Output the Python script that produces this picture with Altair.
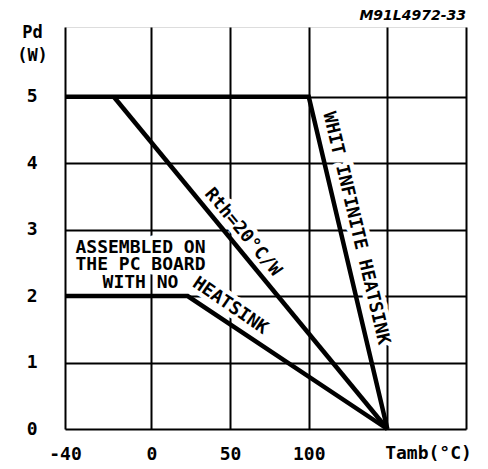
import altair as alt
import pandas as pd

FONT = "DejaVu Sans Mono"

# --- data ---
five_x = [-55, 100, 150]
five_y = [5, 5, 0]
rth_x = [-24, 150]
rth_y = [5, 0]
nohs_x = [-55, 23, 150]
nohs_y = [2, 2, 0]

x_grid = [-55, 0, 50, 100, 150, 200]
y_grid = [0, 1, 2, 3, 4, 5]

ann_text = ["Rth=20°C/W", "WHIT INFINITE HEATSINK", "HEATSINK",
            "ASSEMBLED ON", "THE PC BOARD", "WITH NO"]
ann_x = [58, 130, 50, -7, -7, -7]
ann_y = [2.96, 3.02, 1.85, 2.73, 2.47, 2.20]
ann_angle = [50, 76.5, 34.5, 0, 0, 0]

chart_code = ["M91L4972-33"]

rows = []
for name, xs, ys in [("5W", five_x, five_y), ("rth", rth_x, rth_y), ("nohs", nohs_x, nohs_y)]:
    for i, (a, b) in enumerate(zip(xs, ys)):
        rows.append({"series": name, "i": i, "x": a, "y": b})
lines_df = pd.DataFrame(rows)
ann_df = pd.DataFrame({"x": ann_x, "y": ann_y, "text": ann_text, "angle": ann_angle})
code_df = pd.DataFrame({"text": chart_code})

xscale = alt.Scale(domain=[-55, 200], nice=False, zero=False)
yscale = alt.Scale(domain=[0, 6.05], nice=False)

xaxis = alt.Axis(
    values=x_grid, grid=True, gridColor="black", gridWidth=2, gridOpacity=1,
    domain=False, ticks=False, labelFont=FONT, labelFontWeight="bold", labelFontSize=18,
    labelColor="black", labelPadding=16, labelFlush=False, labelOverlap=False,
    labelExpr="datum.value == -55 ? '-40' : (datum.value >= 150 ? '' : datum.label)",
    title="Tamb(°C)", titleFont=FONT, titleFontWeight="bold", titleFontSize=18,
    titleColor="black", titleX=363, titleY=24, titleBaseline="middle", titleAlign="center",
)
yaxis = alt.Axis(
    values=y_grid, grid=True, gridColor="black", gridWidth=2, gridOpacity=1,
    domain=False, ticks=False, format="d", labelFont=FONT, labelFontWeight="bold",
    labelFontSize=18, labelColor="black", labelPadding=28, labelFlush=False,
    labelOverlap=False,
    title=["Pd", "(W)"], titleFont=FONT, titleFontWeight="bold", titleFontSize=17,
    titleColor="black", titleAngle=0, titleAlign="center", titleBaseline="top",
    titleX=-33, titleY=-3, titleLineHeight=23,
)

lines = alt.Chart(lines_df).mark_line(color="black", strokeWidth=4.5, strokeJoin="miter").encode(
    x=alt.X("x:Q", scale=xscale, axis=xaxis),
    y=alt.Y("y:Q", scale=yscale, axis=yaxis),
    detail="series:N",
    order="i:Q",
)

ann_base = alt.Chart(ann_df).encode(
    x=alt.X("x:Q", scale=xscale),
    y=alt.Y("y:Q", scale=yscale),
    text="text:N",
    angle=alt.Angle("angle:Q", scale=None),
)
halo = ann_base.mark_text(font=FONT, fontWeight="bold", fontSize=18, fill="white",
                          stroke="white", strokeWidth=9, strokeJoin="round",
                          align="center", baseline="middle")
label = ann_base.mark_text(font=FONT, fontWeight="bold", fontSize=18, color="black",
                           align="center", baseline="middle")

code = alt.Chart(code_df).mark_text(
    font="DejaVu Sans", fontWeight="bold", fontStyle="italic", fontSize=14, color="black",
    align="right", baseline="top",
).encode(x=alt.value(401), y=alt.value(-18), text="text:N")

chart = alt.layer(halo, lines, label, code).properties(
    width=401, height=402,
    autosize=alt.AutoSizeParams(type="none"),
    padding={"left": 57, "top": 19, "right": 14, "bottom": 40},
).configure_view(stroke="black", strokeWidth=2).configure(background="white")

chart.save("out.html", embed_options={"renderer": "svg", "actions": False})
